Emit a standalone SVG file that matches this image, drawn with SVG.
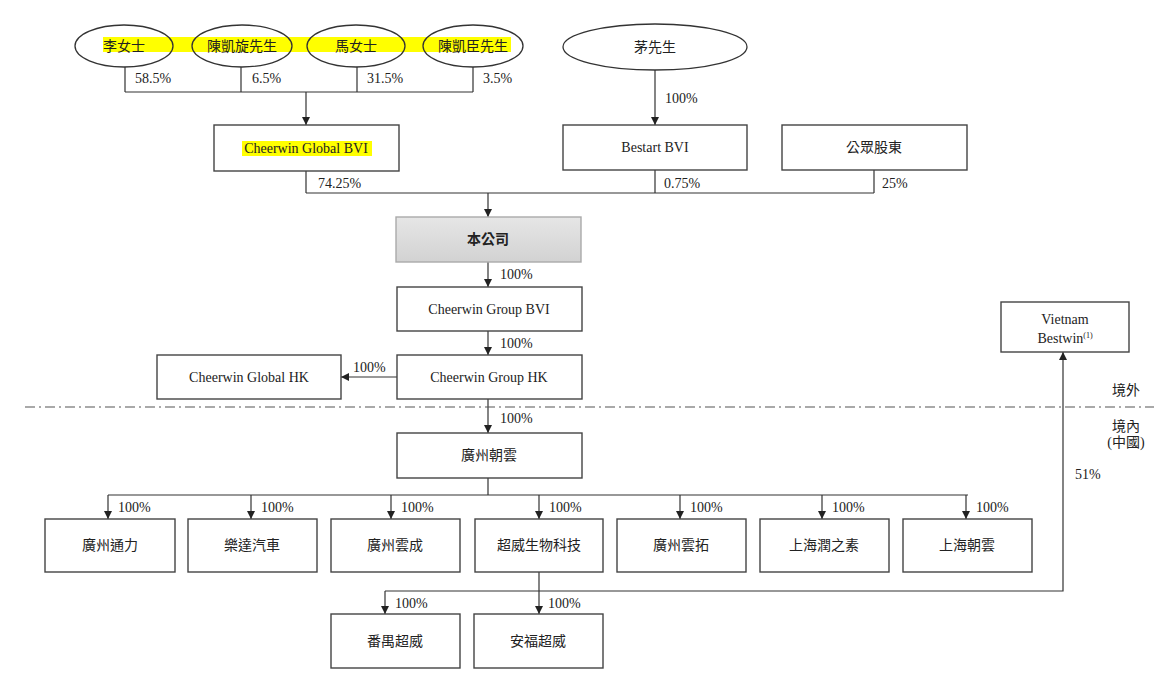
<svg xmlns="http://www.w3.org/2000/svg" width="1154" height="684" viewBox="0 0 1154 684">
<style>
text{font-family:"Liberation Serif","Noto Sans CJK TC",serif;font-size:14px;fill:#222}
.c{text-anchor:middle}
.box{fill:#fff;stroke:#444;stroke-width:1.4}
.ell{fill:none;stroke:#333;stroke-width:1.3}
.ln{fill:none;stroke:#333;stroke-width:1.2}
.ar{fill:none;stroke:#333;stroke-width:1.2;marker-end:url(#ah)}
.hl{fill:#ffff00}
</style>
<defs>
<marker id="ah" viewBox="0 0 10 10" refX="10" refY="5" markerWidth="8" markerHeight="8" markerUnits="userSpaceOnUse" orient="auto">
<path d="M0,0 L10,5 L0,10 z" fill="#222"/>
</marker>
<linearGradient id="gr" x1="0" y1="0" x2="0" y2="1">
<stop offset="0" stop-color="#e6e6e6"/>
<stop offset="1" stop-color="#d2d2d2"/>
</linearGradient>
</defs>
<rect width="1154" height="684" fill="#fff"/>

<g id="connectors">
<path class="ln" d="M125,67 V92 M241,67 V92 M357,67 V92 M473,67 V92 M125,92 H473"/>
<path class="ar" d="M306,92 V125"/>
<path class="ar" d="M655,70 V125"/>
<path class="ln" d="M306,171 V193 M655,170 V193 M874,170 V193 M306,193 H874"/>
<path class="ar" d="M488,193 V217"/>
<path class="ar" d="M488,262 V287"/>
<path class="ar" d="M488,331 V355"/>
<path class="ar" d="M397,377 H341"/>
<path class="ar" d="M488,399 V433"/>
<path class="ln" d="M488,478 V495 M108,495 H968"/>
<path class="ar" d="M108,495 V519"/>
<path class="ar" d="M251,495 V519"/>
<path class="ar" d="M391,495 V519"/>
<path class="ar" d="M539,495 V519"/>
<path class="ar" d="M680,495 V519"/>
<path class="ar" d="M822,495 V519"/>
<path class="ar" d="M966,495 V519"/>
<path class="ar" d="M539,572 V614"/>
<path class="ar" d="M385,591 V614"/>
<path class="ar" d="M385,591 H1063 V352"/>
<path d="M25,407 H1154" fill="none" stroke="#555" stroke-width="1.2" stroke-dasharray="10,4,2,4"/>
</g>

<g id="labels">
<text x="135" y="83">58.5%</text>
<text x="252" y="83">6.5%</text>
<text x="367" y="83">31.5%</text>
<text x="483" y="83">3.5%</text>
<text x="665" y="103">100%</text>
<text x="318" y="188">74.25%</text>
<text x="664" y="188">0.75%</text>
<text x="882" y="188">25%</text>
<text x="500" y="279">100%</text>
<text x="500" y="348">100%</text>
<text x="353" y="372">100%</text>
<text x="500" y="423">100%</text>
<text x="118" y="512">100%</text>
<text x="261" y="512">100%</text>
<text x="401" y="512">100%</text>
<text x="549" y="512">100%</text>
<text x="690" y="512">100%</text>
<text x="832" y="512">100%</text>
<text x="976" y="512">100%</text>
<text x="395" y="608">100%</text>
<text x="548" y="608">100%</text>
<text x="1075" y="479">51%</text>
<text class="c" x="1126" y="395">境外</text>
<text class="c" x="1126" y="431">境內</text>
<text class="c" x="1126" y="447">(中國)</text>
</g>

<rect class="hl" x="103" y="37" width="408" height="15"/>

<g id="n-li">
<ellipse class="ell" cx="124" cy="46" rx="49" ry="21"/>
<text class="c" x="124" y="51">李女士</text>
</g>
<g id="n-chenkx">
<ellipse class="ell" cx="242" cy="46" rx="50" ry="21"/>
<text class="c" x="242" y="51">陳凱旋先生</text>
</g>
<g id="n-ma">
<ellipse class="ell" cx="356" cy="46" rx="49" ry="21"/>
<text class="c" x="356" y="51">馬女士</text>
</g>
<g id="n-chenkc">
<ellipse class="ell" cx="473" cy="46" rx="50" ry="21"/>
<text class="c" x="473" y="51">陳凱臣先生</text>
</g>
<g id="n-mao">
<ellipse class="ell" cx="655" cy="47" rx="92" ry="23"/>
<text class="c" x="655" y="52">茅先生</text>
</g>

<g id="n-cgbvi">
<rect class="box" x="214" y="125" width="185" height="46"/>
<rect class="hl" x="242" y="141" width="130" height="15"/>
<text class="c" x="306" y="153">Cheerwin Global BVI</text>
</g>
<g id="n-bestart">
<rect class="box" x="563" y="125" width="184" height="45"/>
<text class="c" x="655" y="152">Bestart BVI</text>
</g>
<g id="n-public">
<rect class="box" x="782" y="125" width="185" height="45"/>
<text class="c" x="874" y="152">公眾股東</text>
</g>
<g id="n-company">
<rect x="396" y="217" width="185" height="45" fill="url(#gr)" stroke="#aaa" stroke-width="1.4"/>
<text class="c" x="488" y="244" font-weight="bold">本公司</text>
</g>
<g id="n-cgrbvi">
<rect class="box" x="397" y="287" width="185" height="44"/>
<text class="c" x="489" y="314">Cheerwin Group BVI</text>
</g>
<g id="n-cgrhk">
<rect class="box" x="397" y="355" width="185" height="44"/>
<text class="c" x="489" y="382">Cheerwin Group HK</text>
</g>
<g id="n-cglhk">
<rect class="box" x="157" y="355" width="184" height="44"/>
<text class="c" x="249" y="382">Cheerwin Global HK</text>
</g>
<g id="n-vietnam">
<rect class="box" x="1001" y="302" width="128" height="50"/>
<text class="c" x="1065" y="324">Vietnam</text>
<text class="c" x="1065" y="343">Bestwin<tspan font-size="8" dy="-5">(1)</tspan></text>
</g>
<g id="n-gzcy">
<rect class="box" x="397" y="433" width="185" height="45"/>
<text class="c" x="489" y="460">廣州朝雲</text>
</g>
<g id="n-gztl">
<rect class="box" x="45" y="519" width="130" height="53"/>
<text class="c" x="110" y="550">廣州通力</text>
</g>
<g id="n-cdqc">
<rect class="box" x="188" y="519" width="129" height="53"/>
<text class="c" x="252" y="550">樂達汽車</text>
</g>
<g id="n-gzyc">
<rect class="box" x="331" y="519" width="129" height="53"/>
<text class="c" x="395" y="550">廣州雲成</text>
</g>
<g id="n-cwsw">
<rect class="box" x="475" y="519" width="128" height="53"/>
<text class="c" x="539" y="550">超威生物科技</text>
</g>
<g id="n-gzyt">
<rect class="box" x="617" y="519" width="129" height="53"/>
<text class="c" x="681" y="550">廣州雲拓</text>
</g>
<g id="n-shrzs">
<rect class="box" x="760" y="519" width="129" height="53"/>
<text class="c" x="824" y="550">上海潤之素</text>
</g>
<g id="n-shcy">
<rect class="box" x="903" y="519" width="129" height="53"/>
<text class="c" x="967" y="550">上海朝雲</text>
</g>
<g id="n-pycw">
<rect class="box" x="331" y="614" width="129" height="54"/>
<text class="c" x="395" y="646">番禺超威</text>
</g>
<g id="n-afcw">
<rect class="box" x="474" y="614" width="129" height="54"/>
<text class="c" x="538" y="646">安福超威</text>
</g>
</svg>
